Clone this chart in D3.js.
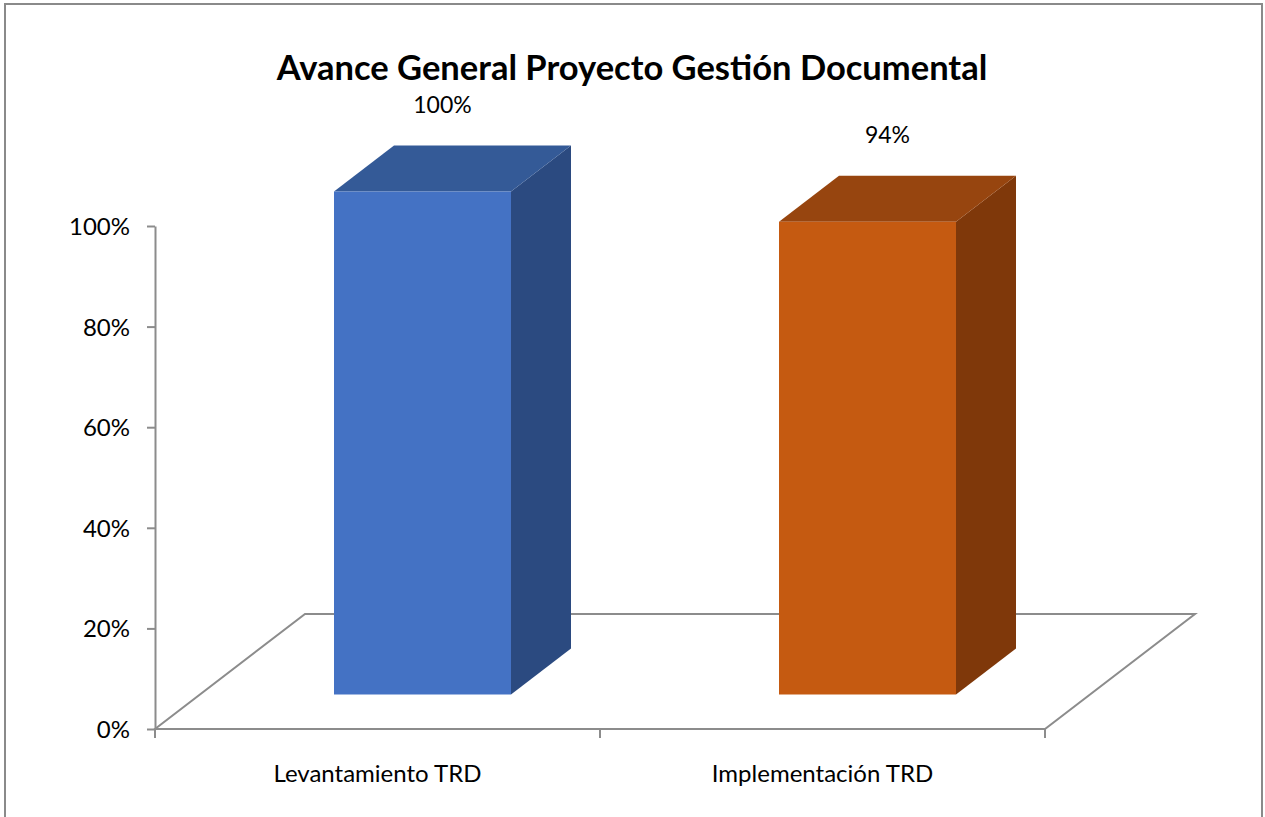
<!DOCTYPE html>
<html><head><meta charset="utf-8">
<script src="https://cdn.jsdelivr.net/npm/d3@7"></script>
<style>body{margin:0;background:#fff}svg{display:block}</style>
</head><body>
<script>
const categories = ["Levantamiento TRD", "Implementación TRD"];
const values = [1.00, 0.94];
const valueLabels = ["100%", "94%"];
const yTicks = [0, 0.2, 0.4, 0.6, 0.8, 1.0];
const frontColors = ["#4472C4", "#C55A11"];
const topColors = ["#345A97", "#97450F"];
const sideColors = ["#2B4A80", "#7F380A"];

const W = 1265, H = 817;
const FONT = "Lato, 'Open Sans', sans-serif";
const svg = d3.select("body").append("svg").attr("width", W).attr("height", H);

// frame
svg.append("rect").attr("x", 5).attr("y", 4).attr("width", 1257).attr("height", 830)
  .attr("fill", "#fff").attr("stroke", "#8a8a8a").attr("stroke-width", 2);

const x0 = 155, x1 = 1045, yBase = 729;
const depthDX = 150, depthDY = -115;
const x = d3.scaleBand().domain(categories).range([x0, x1]).paddingInner(0).paddingOuter(0);
const y = d3.scaleLinear().domain([0, 1]).range([yBase, 226]);
const proj = (px, py, d) => [px + d * depthDX, py + d * depthDY];

// floor
const floor = [proj(x0, yBase, 0), proj(x1, yBase, 0), proj(x1, yBase, 1), proj(x0, yBase, 1)];
svg.append("path").attr("d", "M" + floor.map(p => p.join(",")).join("L") + "Z")
  .attr("fill", "none").attr("stroke", "#8c8c8c").attr("stroke-width", 2);

// y axis
const gy = svg.append("g").attr("transform", `translate(${x0},0)`)
  .call(d3.axisLeft(y).tickValues(yTicks).tickFormat(d3.format(".0%")).tickSize(8).tickSizeOuter(0));
gy.select(".domain").attr("stroke", "#8c8c8c").attr("stroke-width", 2);
gy.selectAll(".tick line").attr("stroke", "#8c8c8c").attr("stroke-width", 2);
gy.selectAll(".tick text").attr("font-family", FONT).attr("font-size", 24)
  .attr("fill", "#000").attr("x", -25).attr("dy", "0.35em");

// x axis ticks
const xt = [x0, ...categories.map(c => x(c) + x.bandwidth())];
svg.selectAll(".xt").data(xt).enter().append("line")
  .attr("x1", d => d).attr("x2", d => d).attr("y1", yBase).attr("y2", yBase + 9)
  .attr("stroke", "#8c8c8c").attr("stroke-width", 2);
svg.selectAll(".xl").data(categories).enter().append("text")
  .attr("x", d => x(d) + x.bandwidth() / 2).attr("y", 782)
  .attr("text-anchor", "middle").attr("font-family", FONT)
  .attr("font-size", 24).attr("fill", "#000").text(d => d);

// bars
const barW = 177, dFront = 0.3, dBack = 0.7;
const poly = pts => "M" + pts.map(p => p.join(",")).join("L") + "Z";
categories.forEach((c, i) => {
  const cx = x(c) + x.bandwidth() / 2;
  const l = cx - barW / 2, r = cx + barW / 2;
  const t = y(values[i]), b = y(0);
  const fl = proj(l, t, dFront), fr = proj(r, t, dFront), frb = proj(r, b, dFront), flb = proj(l, b, dFront);
  const bl = proj(l, t, dBack), br = proj(r, t, dBack), brb = proj(r, b, dBack);
  svg.append("path").attr("d", poly([fr, br, brb, frb])).attr("fill", sideColors[i]);
  svg.append("path").attr("d", poly([fl, bl, br, fr])).attr("fill", topColors[i]);
  svg.append("path").attr("d", poly([fl, fr, frb, flb])).attr("fill", frontColors[i]);
  svg.append("text").attr("x", cx + depthDX * dFront + 20).attr("y", bl[1] - 33)
    .attr("text-anchor", "middle").attr("font-family", FONT)
    .attr("font-size", 23).attr("fill", "#000").text(valueLabels[i]);
});

// title
svg.append("text").attr("x", 632).attr("y", 80).attr("text-anchor", "middle")
  .attr("font-family", FONT).attr("font-weight", "bold")
  .attr("font-size", 34.5).attr("fill", "#000").text("Avance General Proyecto Gestión Documental");
</script>
</body></html>
